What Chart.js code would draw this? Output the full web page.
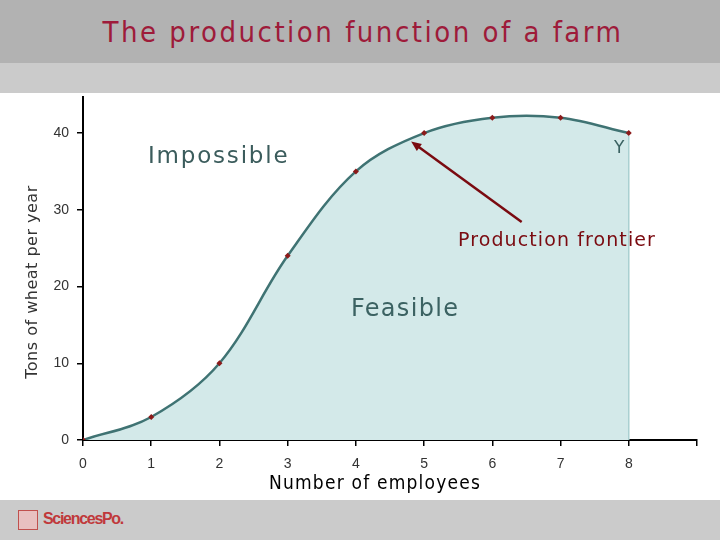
<!DOCTYPE html>
<html>
<head>
<meta charset="utf-8">
<script src="https://cdn.jsdelivr.net/npm/chart.js@4"></script>
<style>
  body { margin: 0; width: 720px; height: 540px; position: relative; background: #fff; overflow: hidden; font-family: "DejaVu Sans", sans-serif; }
  .band-top { position: absolute; left: 0; top: 0; width: 720px; height: 63px; background: #b2b2b2; }
  .band-sub { position: absolute; left: 0; top: 63px; width: 720px; height: 30px; background: #cbcbcb; }
  .band-bottom { position: absolute; left: 0; top: 500px; width: 720px; height: 40px; background: #cbcbcb; }
  .title { position: absolute; left: 0; top: 15px; width: 726px; text-align: center; font-size: 29px; letter-spacing: 2.5px; color: #9e1b3a; font-family: "DejaVu Sans Condensed", "DejaVu Sans", sans-serif; }
  #wrap { position: absolute; left: 0; top: 93px; width: 720px; height: 407px; }
  .note { position: absolute; white-space: nowrap; }
  .ytitle { position: absolute; left: 31px; top: 282px; transform: translate(-50%, -50%) rotate(-90deg); font-size: 16px; letter-spacing: 0.5px; color: #333; white-space: nowrap; }
  .logo { position: absolute; left: 18px; top: 510px; }
  .logo .box { position: absolute; left: 0; top: 0; width: 18px; height: 18px; border: 1px solid #c0504d; background: #e8c0c0; }
  .logo .txt { position: absolute; left: 25px; top: 0px; font-family: "Liberation Sans", Arial, sans-serif; font-weight: bold; font-size: 16px; letter-spacing: -1.3px; color: #c0393b; }
</style>
</head>
<body>
<div class="band-top"></div>
<div class="band-sub"></div>
<div class="band-bottom"></div>
<div class="title">The production function of a farm</div>
<div id="wrap"><canvas id="chart"></canvas></div>
<div class="ytitle">Tons of wheat per year</div>
<div class="note" style="left:148px; top:142px; font-size:23px; letter-spacing:1.8px; color:#3b5c5c;">Impossible</div>
<div class="note" style="left:351px; top:294px; font-size:24px; letter-spacing:1.3px; color:#3b6262;">Feasible</div>
<div class="note" style="left:614px; top:137px; font-size:17px; color:#3b6262;">Y</div>
<div class="note" style="left:458px; top:228px; font-size:19px; letter-spacing:1.1px; color:#7a0a10;">Production frontier</div>
<div class="note" style="left:269px; top:471px; font-size:19px; letter-spacing:1.2px; color:#000; font-family: 'DejaVu Sans Condensed', 'DejaVu Sans', sans-serif;">Number of employees</div>
<div class="logo"><div class="box"></div><div class="txt">SciencesPo.</div></div>
<script>
const employees = [0, 1, 2, 3, 4, 5, 6, 7, 8];
const tons = [0, 3, 10, 24, 35, 40, 42, 42, 40];
const yTicks = [0, 10, 20, 30, 40];
const xTicks = [0, 1, 2, 3, 4, 5, 6, 7, 8];
// arrow from the label toward the frontier, in data units
const arrowFrom = [6.43, 28.4];
const arrowTo = [4.81, 38.9];

const frontierPlugin = {
  id: 'frontier',
  afterDatasetsDraw(chart) {
    const { ctx, scales: { x, y } } = chart;
    const last = employees.length - 1;
    ctx.save();
    // right edge of the feasible region
    ctx.strokeStyle = '#a9cfd0';
    ctx.lineWidth = 1.5;
    ctx.beginPath();
    ctx.moveTo(x.getPixelForValue(employees[last]), y.getPixelForValue(tons[last]) + 3);
    ctx.lineTo(x.getPixelForValue(employees[last]), y.getPixelForValue(0));
    ctx.stroke();
    // arrow
    const x1 = x.getPixelForValue(arrowFrom[0]), y1 = y.getPixelForValue(arrowFrom[1]);
    const x2 = x.getPixelForValue(arrowTo[0]), y2 = y.getPixelForValue(arrowTo[1]);
    const a = Math.atan2(y2 - y1, x2 - x1);
    ctx.strokeStyle = '#7a0a10';
    ctx.fillStyle = '#7a0a10';
    ctx.lineWidth = 2.5;
    ctx.beginPath();
    ctx.moveTo(x1, y1);
    ctx.lineTo(x2 - 6 * Math.cos(a), y2 - 6 * Math.sin(a));
    ctx.stroke();
    ctx.beginPath();
    ctx.moveTo(x2, y2);
    ctx.lineTo(x2 - 11 * Math.cos(a - 0.4), y2 - 11 * Math.sin(a - 0.4));
    ctx.lineTo(x2 - 11 * Math.cos(a + 0.4), y2 - 11 * Math.sin(a + 0.4));
    ctx.closePath();
    ctx.fill();
    ctx.restore();
  }
};

new Chart(document.getElementById('chart'), {
  type: 'line',
  data: {
    datasets: [{
      data: employees.map((e, i) => ({ x: e, y: tons[i] })),
      borderColor: '#3f7373',
      borderWidth: 2.5,
      backgroundColor: '#d3e9e9',
      fill: 'origin',
      tension: 0.35,
      pointStyle: 'rectRot',
      pointRadius: 3,
      pointBackgroundColor: '#8b1a1a',
      pointBorderColor: '#8b1a1a',
      pointBorderWidth: 0
    }]
  },
  options: {
    responsive: true,
    maintainAspectRatio: false,
    animation: false,
    layout: { padding: { top: 4, right: 23, left: 0, bottom: 0 } },
    plugins: { legend: { display: false }, tooltip: { enabled: false } },
    scales: {
      x: {
        type: 'linear',
        min: 0,
        max: 9,
        afterBuildTicks: s => { s.ticks = [...xTicks, 9].map(v => ({ value: v })); },
        afterFit: s => { s.height = 60; s.paddingLeft = 0; s.paddingRight = 0; },
        grid: { drawOnChartArea: false, drawTicks: true, tickLength: 6, color: '#000', lineWidth: 1.5 },
        border: { color: '#000', width: 2 },
        ticks: {
          padding: 10,
          color: '#333',
          font: { family: 'Liberation Sans', size: 14 },
          callback: v => xTicks.includes(v) ? String(v) : ''
        }
      },
      y: {
        min: 0,
        max: 44.7,
        afterBuildTicks: s => { s.ticks = yTicks.map(v => ({ value: v })); },
        afterFit: s => { s.width = 83; s.paddingTop = 0; s.paddingBottom = 0; },
        grid: { drawOnChartArea: false, drawTicks: true, tickLength: 6, color: '#000', lineWidth: 1.5 },
        border: { color: '#000', width: 2 },
        ticks: {
          padding: 8,
          color: '#333',
          font: { family: 'Liberation Sans', size: 14 }
        }
      }
    }
  },
  plugins: [frontierPlugin]
});
</script>
</body>
</html>
